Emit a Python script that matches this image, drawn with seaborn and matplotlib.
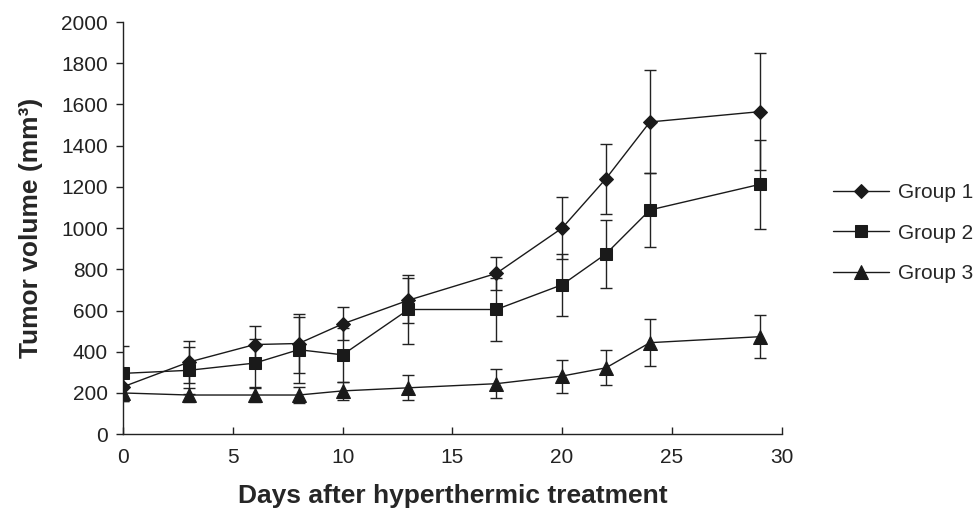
import numpy as np
import pandas as pd
import seaborn as sns
import matplotlib.pyplot as plt

# days of measurement
days = [0, 3, 6, 8, 10, 13, 17, 20, 22, 24, 29]

# mean tumor volume (mm3) and error per group
group1 = [230, 350, 435, 440, 535, 650, 780, 1000, 1240, 1515, 1565]
group1_err = [60, 100, 90, 145, 80, 110, 80, 150, 170, 250, 285]
group2 = [295, 310, 345, 410, 385, 605, 605, 725, 875, 1088, 1212]
group2_err = [135, 115, 115, 160, 130, 165, 155, 150, 165, 180, 215]
group3 = [200, 190, 190, 190, 210, 225, 245, 282, 322, 444, 473]
group3_err = [40, 35, 35, 40, 45, 60, 70, 80, 85, 115, 105]

groups = ["Group 1", "Group 2", "Group 3"]
marker_map = {"Group 1": "D", "Group 2": "s", "Group 3": "^"}
# diamond path is drawn bigger than the square at the same size
marker_size = {"D": 7.5, "s": 9, "^": 10}

df = pd.DataFrame({
    "day": days * 3,
    "volume": group1 + group2 + group3,
    "err": group1_err + group2_err + group3_err,
    "group": np.repeat(groups, len(days)),
})

sns.set_theme(style="ticks")
plt.rcParams["font.family"] = ["Liberation Sans", "DejaVu Sans"]

fig = plt.figure(figsize=(9.77, 5.12), dpi=100)
ax = fig.add_axes([0.126, 0.152, 0.674, 0.805])

# error bars first so the markers sit on top
for g in groups:
    sub = df[df["group"] == g]
    ax.errorbar(sub["day"], sub["volume"], yerr=sub["err"], fmt="none",
                ecolor="#222222", elinewidth=1.0, capsize=4.5, capthick=1.0, zorder=1)

sns.lineplot(data=df, x="day", y="volume", style="group", markers=marker_map,
             dashes=False, color="#1a1a1a", linewidth=1.0, markeredgecolor="#1a1a1a",
             ax=ax, zorder=3)
for line in ax.get_lines():
    m = line.get_marker()
    if m in marker_size:
        line.set_markersize(marker_size[m])

ax.set_xlim(0, 30)
ax.set_ylim(0, 2000)
ax.set_xticks(range(0, 31, 5))
ax.set_yticks(range(0, 2001, 200))
ax.spines["top"].set_visible(False)
ax.spines["right"].set_visible(False)
for s in ["left", "bottom"]:
    ax.spines[s].set_linewidth(1.0)
    ax.spines[s].set_color("#222222")
ax.tick_params(axis="y", direction="out", length=5, width=1.0, labelsize=15, pad=6, colors="#222222")
ax.tick_params(axis="x", direction="in", length=5, width=1.0, labelsize=15, pad=10, colors="#222222")

ax.set_xlabel("Days after hyperthermic treatment", fontsize=19, fontweight="bold", labelpad=12)
ax.set_ylabel("Tumor volume (mm³)", fontsize=19, fontweight="bold", labelpad=13)

leg = ax.legend(frameon=False, loc="center left", bbox_to_anchor=(1.049, 0.488), fontsize=15,
                handlelength=2.7, labelspacing=1.04, handletextpad=0.43)
for h in leg.legend_handles:
    m = h.get_marker()
    if m in marker_size:
        h.set_markersize(marker_size[m])

fig.savefig("out.png", dpi=100)
